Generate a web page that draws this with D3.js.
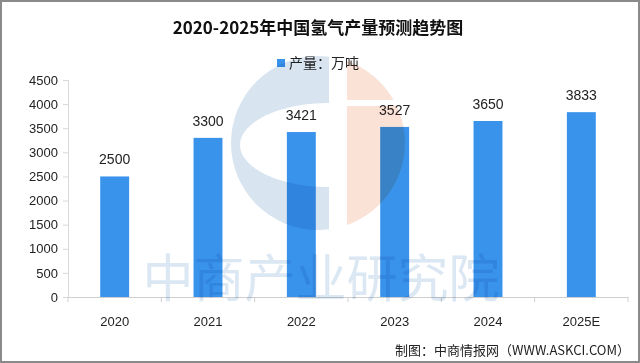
<!DOCTYPE html>
<html>
<head>
<meta charset="utf-8">
<script src="https://cdn.jsdelivr.net/npm/d3@7"></script>
<style>
  body { margin: 0; background: #fff; }
  svg { display: block; font-family: "Liberation Sans", "Noto Sans CJK SC", sans-serif; }
</style>
</head>
<body>
<svg id="chart" width="640" height="363"></svg>
<script>
const years = ["2020", "2021", "2022", "2023", "2024", "2025E"];
const output = [2500, 3300, 3421, 3527, 3650, 3833];
const yTicks = [0, 500, 1000, 1500, 2000, 2500, 3000, 3500, 4000, 4500];

const svg = d3.select("#chart");
const width = +svg.attr("width");
const height = +svg.attr("height");
const margin = { top: 80, right: 12, bottom: 66, left: 68 };

const x = d3.scaleBand()
  .domain(years)
  .range([margin.left, width - margin.right])
  .paddingInner(0.69)
  .paddingOuter(0.345);

const y = d3.scaleLinear()
  .domain([0, 4500])
  .range([height - margin.bottom, margin.top]);

// frame
svg.append("rect")
  .attr("x", 1).attr("y", 1)
  .attr("width", width - 2).attr("height", height - 2)
  .attr("fill", "#fff")
  .attr("stroke", "#8a8a8a")
  .attr("stroke-width", 2);

// title
svg.append("text")
  .attr("x", 318)
  .attr("y", 34)
  .attr("text-anchor", "middle")
  .attr("font-family", "'Noto Sans CJK SC', sans-serif")
  .attr("font-size", "17px")
  .attr("font-weight", "bold")
  .attr("fill", "#111")
  .text("2020-2025年中国氢气产量预测趋势图");

// legend
svg.append("rect")
  .attr("x", 277).attr("y", 59)
  .attr("width", 8).attr("height", 8)
  .attr("fill", "#3a93eb");
svg.append("text")
  .attr("x", 289)
  .attr("y", 68)
  .attr("font-family", "'Noto Sans CJK SC', sans-serif")
  .attr("font-size", "14px")
  .attr("fill", "#222")
  .text("产量：万吨");

// y axis
const yAxis = svg.append("g")
  .attr("transform", `translate(${margin.left},0)`)
  .call(d3.axisLeft(y).tickValues(yTicks).tickFormat(d3.format("d")).tickSize(5).tickPadding(5));
yAxis.select(".domain").attr("stroke", "#d9d9d9");
yAxis.selectAll(".tick line").attr("stroke", "#d9d9d9");
yAxis.selectAll(".tick text")
  .attr("font-size", "13px")
  .attr("font-family", "'Liberation Sans', sans-serif")
  .attr("fill", "#222");

// x axis
const xAxis = svg.append("g")
  .attr("transform", `translate(0,${y(0)})`)
  .call(d3.axisBottom(x).tickSize(0).tickPadding(20).tickSizeOuter(0));
xAxis.select(".domain").attr("stroke", "#cfcfcf");
xAxis.selectAll(".tick text")
  .attr("font-size", "13px")
  .attr("font-family", "'Liberation Sans', sans-serif")
  .attr("fill", "#222");
// category separators
const step = x.step();
xAxis.selectAll(".sep")
  .data(d3.range(years.length + 1))
  .enter()
  .append("line")
  .attr("x1", i => margin.left + i * step)
  .attr("x2", i => margin.left + i * step)
  .attr("y1", 0).attr("y2", 5)
  .attr("stroke", "#cfcfcf");

// bars
svg.selectAll(".bar")
  .data(output)
  .enter()
  .append("rect")
  .attr("class", "bar")
  .attr("x", (d, i) => x(years[i]))
  .attr("y", d => y(d))
  .attr("width", x.bandwidth())
  .attr("height", d => y(0) - y(d))
  .attr("fill", "#3a93eb");

// value labels
svg.selectAll(".val")
  .data(output)
  .enter()
  .append("text")
  .attr("class", "val")
  .attr("x", (d, i) => x(years[i]) + x.bandwidth() / 2)
  .attr("y", d => y(d) - 12)
  .attr("text-anchor", "middle")
  .attr("font-size", "14px")
  .attr("fill", "#222")
  .text(d => d);

// watermark
const wm = svg.append("g").style("mix-blend-mode", "multiply");
const cx = 318, cy = 143, r = 87;
const defs = svg.append("defs");
defs.append("clipPath").attr("id", "leftClip")
  .append("rect").attr("x", cx - r - 2).attr("y", cy - r - 2).attr("width", 329 - (cx - r - 2)).attr("height", 2 * r + 4);
defs.append("clipPath").attr("id", "rightClip")
  .append("rect").attr("x", 347).attr("y", cy - r - 2).attr("width", r + 4).attr("height", 2 * r + 4);
wm.append("circle")
  .attr("cx", cx).attr("cy", cy).attr("r", r)
  .attr("fill", "#d8e5f0")
  .attr("clip-path", "url(#leftClip)");
wm.append("ellipse")
  .attr("cx", 329).attr("cy", 145).attr("rx", 89).attr("ry", 42)
  .attr("fill", "#fff")
  .attr("clip-path", "url(#leftClip)");
wm.append("circle")
  .attr("cx", cx).attr("cy", cy).attr("r", r)
  .attr("fill", "#fae2d7")
  .attr("clip-path", "url(#rightClip)");
wm.append("rect")
  .attr("x", 345).attr("y", 100).attr("width", 60).attr("height", 6)
  .attr("fill", "#fff");
wm.append("text")
  .attr("x", 321)
  .attr("y", 297)
  .attr("text-anchor", "middle")
  .attr("font-family", "'Noto Sans CJK SC', sans-serif")
  .attr("font-size", "51px")
  .attr("fill", "#dbe7f2")
  .text("中商产业研究院");

// source
svg.append("text")
  .attr("x", 630)
  .attr("y", 355)
  .attr("text-anchor", "end")
  .attr("font-family", "'Noto Sans CJK SC', sans-serif")
  .attr("font-size", "13px")
  .attr("fill", "#222")
  .text("制图：中商情报网（WWW.ASKCI.COM）");
</script>
</body>
</html>
